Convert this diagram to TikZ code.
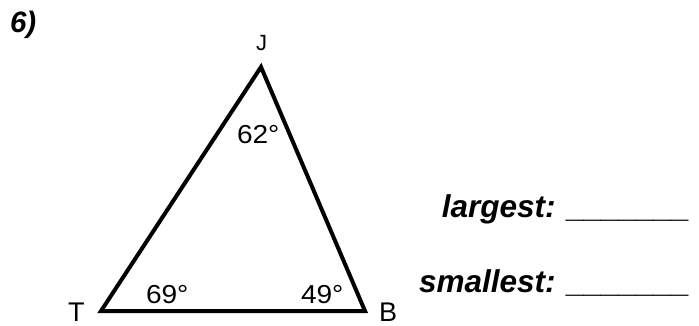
\documentclass[tikz,border=0pt]{standalone}
\usepackage{fontspec}
\setmainfont{Liberation Sans}
\begin{document}
\begin{tikzpicture}[x=1pt,y=-1pt,
  lbl/.style={inner sep=0pt, outer sep=0pt, text=black},
  vlabel/.style={lbl, font=\fontsize{22}{26}\selectfont},
  vlabelbig/.style={lbl, font=\fontsize{27}{30}\selectfont},
  anglbl/.style={lbl, font=\fontsize{26}{30}\selectfont},
  answer/.style={lbl, font=\fontsize{31.5}{36}\selectfont\bfseries\itshape},
  tri/.style={line width=4pt, line join=miter, black}]
\useasboundingbox (0,0) rectangle (699,326);
% vertices
\coordinate (J) at (261,67);
\coordinate (T) at (101,311);
\coordinate (B) at (365,311);
\draw[tri] (J) -- (B) -- (T) -- cycle;
% problem number
\node[answer, font=\fontsize{29.5}{34}\selectfont\bfseries\itshape, anchor=base west] (num) at (10,33) {6)};
% vertex labels
\node[vlabel, anchor=base] (lJ) at (261.5,50.5) {J};
\node[vlabelbig, anchor=base west] (lT) at (68,321) {T};
\node[vlabelbig, anchor=base west] (lB) at (379,321) {B};
% angle labels
\node[anglbl, anchor=base west] (a62) at (237,143.5) {\scalebox{1.08}[1]{62°}};
\node[anglbl, anchor=base west] (a69) at (146,303.5) {\scalebox{1.08}[1]{69°}};
\node[anglbl, anchor=base west] (a49) at (301,303.5) {\scalebox{1.08}[1]{49°}};
% answer lines
\node[answer, anchor=base east] (largest) at (690,217) {largest: \_\_\_\_\_\_\_};
\node[answer, anchor=base east] (smallest) at (690,292) {smallest: \_\_\_\_\_\_\_};
\end{tikzpicture}
\end{document}
